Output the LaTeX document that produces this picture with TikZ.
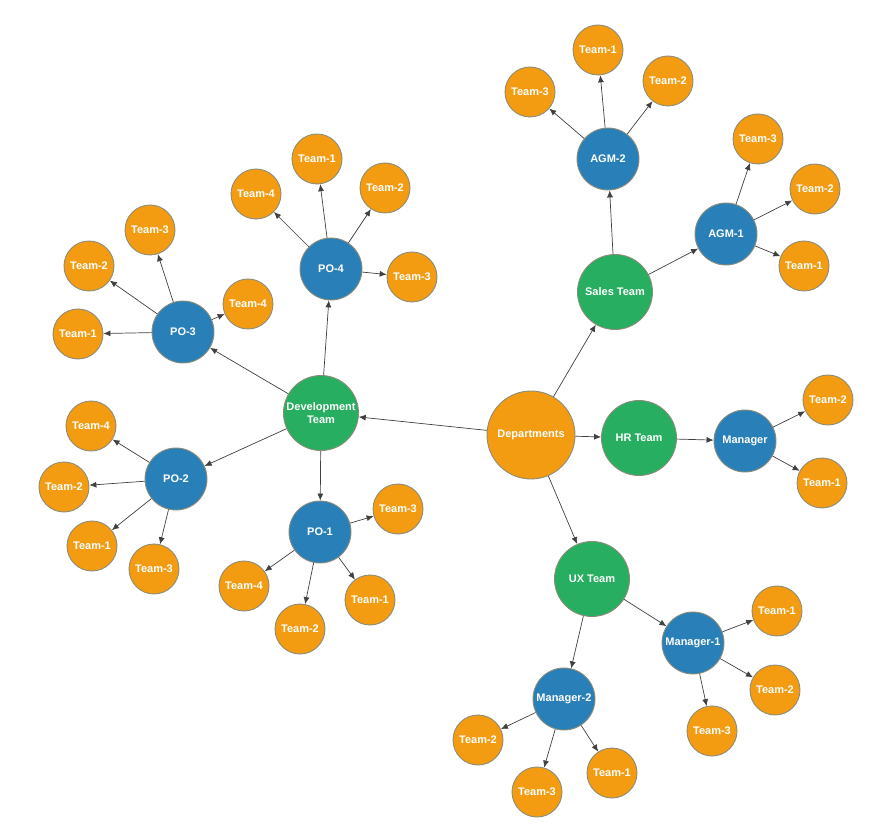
\documentclass[tikz,border=0pt]{standalone}
\usepackage{fontspec}
\setmainfont{Liberation Sans}
\usetikzlibrary{arrows.meta}
\definecolor{corange}{HTML}{F39C12}
\definecolor{cgreen}{HTML}{27AE60}
\definecolor{cblue}{HTML}{2980B9}
\definecolor{cborder}{HTML}{8C8C7A}
\tikzset{
  base/.style={circle,draw=cborder,line width=0.9pt,text=white,font=\fontsize{11}{12.5}\selectfont\bfseries,inner sep=0pt,align=center},
  root/.style={base,fill=corange,minimum size=88pt},
  dept/.style={base,fill=cgreen,minimum size=75pt},
  mgr/.style={base,fill=cblue,minimum size=62pt},
  team/.style={base,fill=corange,minimum size=50pt},
  edge/.style={draw=black!75,line width=0.7pt,-{Latex[length=7pt,width=6pt]}}
}
\begin{document}
\begin{tikzpicture}[x=1pt,y=-1pt]
\useasboundingbox (0,0) rectangle (892,826);
% main
\node[root] (dep) at (531,435) {Departments};
\node[dept] (dev) at (321,413) {Development\\Team};
\node[dept] (sales) at (615,292) {Sales Team};
\node[dept] (hr) at (639,438) {HR Team};
\node[dept] (ux) at (592,579) {UX Team};
% HR
\node[mgr] (hrm) at (745,441) {Manager};
\node[team] (hr2) at (828,400) {Team-2};
\node[team] (hr1) at (822,483) {Team-1};
% Sales
\node[mgr] (agm2) at (608,159) {AGM-2};
\node[mgr] (agm1) at (726,234) {AGM-1};
\node[team] (a2t1) at (598,50) {Team-1};
\node[team] (a2t2) at (668,81) {Team-2};
\node[team] (a2t3) at (530,92) {Team-3};
\node[team] (a1t3) at (758,139) {Team-3};
\node[team] (a1t2) at (815,189) {Team-2};
\node[team] (a1t1) at (804,266) {Team-1};
% Dev
\node[mgr] (po4) at (331,269) {PO-4};
\node[team] (p4t1) at (317,159) {Team-1};
\node[team] (p4t2) at (385,188) {Team-2};
\node[team] (p4t4) at (256,194) {Team-4};
\node[team] (p4t3) at (412,277) {Team-3};
\node[mgr] (po3) at (183,332) {PO-3};
\node[team] (p3t3) at (150,230) {Team-3};
\node[team] (p3t2) at (89,266) {Team-2};
\node[team] (p3t4) at (248,304) {Team-4};
\node[team] (p3t1) at (78,334) {Team-1};
\node[mgr] (po2) at (176,479) {PO-2};
\node[team] (p2t4) at (91,426) {Team-4};
\node[team] (p2t2) at (64,487) {Team-2};
\node[team] (p2t1) at (92,546) {Team-1};
\node[team] (p2t3) at (154,569) {Team-3};
\node[mgr] (po1) at (320,532) {PO-1};
\node[team] (p1t3) at (398,509) {Team-3};
\node[team] (p1t4) at (244,586) {Team-4};
\node[team] (p1t1) at (370,600) {Team-1};
\node[team] (p1t2) at (300,629) {Team-2};
% UX
\node[mgr] (m1) at (693,643) {Manager-1};
\node[team] (m1t1) at (777,611) {Team-1};
\node[team] (m1t2) at (775,690) {Team-2};
\node[team] (m1t3) at (712,731) {Team-3};
\node[mgr] (m2) at (564,699) {Manager-2};
\node[team] (m2t2) at (478,740) {Team-2};
\node[team] (m2t1) at (612,773) {Team-1};
\node[team] (m2t3) at (537,792) {Team-3};
% edges
\foreach \a/\b in {dep/dev,dep/sales,dep/hr,dep/ux,
  hr/hrm,hrm/hr2,hrm/hr1,
  sales/agm2,sales/agm1,agm2/a2t1,agm2/a2t2,agm2/a2t3,agm1/a1t3,agm1/a1t2,agm1/a1t1,
  dev/po4,dev/po3,dev/po2,dev/po1,
  po4/p4t1,po4/p4t2,po4/p4t4,po4/p4t3,
  po3/p3t3,po3/p3t2,po3/p3t4,po3/p3t1,
  po2/p2t4,po2/p2t2,po2/p2t1,po2/p2t3,
  po1/p1t3,po1/p1t4,po1/p1t1,po1/p1t2,
  ux/m1,ux/m2,m1/m1t1,m1/m1t2,m1/m1t3,m2/m2t2,m2/m2t1,m2/m2t3}
  \draw[edge] (\a) -- (\b);
\end{tikzpicture}
\end{document}
